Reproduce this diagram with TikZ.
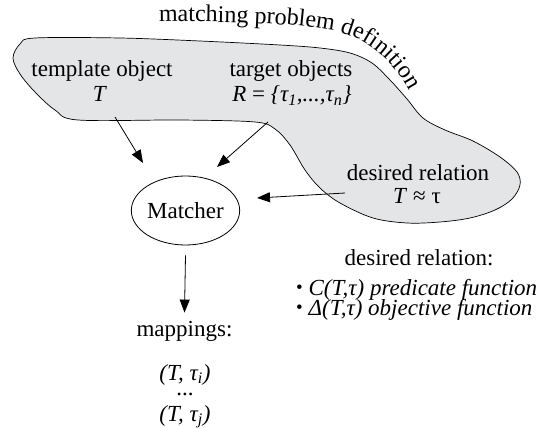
\documentclass[tikz,border=0pt]{standalone}
\usepackage{fontspec}
\setmainfont{Liberation Serif}
\usetikzlibrary{arrows.meta,decorations.text,shapes.geometric}
\definecolor{blobgray}{RGB}{228,229,231}
\newcommand{\smallbullet}{{\fontsize{19}{19}\selectfont\raisebox{1.5pt}{•}}}
\begin{document}
\begin{tikzpicture}[x=1pt,y=1pt,
  lbl/.style={inner sep=0pt, anchor=base, font=\fontsize{23}{27}\selectfont},
  arr/.style={-{Triangle[length=13pt,width=10pt]}, line width=0.8pt},
]
\useasboundingbox (0,0) rectangle (541,-428);
% blob
\path[fill=blobgray, draw=black, line width=0.7pt] plot[smooth cycle, tension=0.55] coordinates {
 (35,-38) (120,-38) (200,-41) (280,-45) (320,-48) (350,-53) (372,-63) (390,-80)
 (407,-99) (423,-118) (445,-130) (473,-141) (500,-157) (517,-172) (520,-185)
 (512,-199) (495,-210) (470,-218) (440,-222) (407,-223) (373,-218) (340,-203)
 (320,-188) (305,-170) (290,-145) (275,-129) (255,-122) (180,-120) (78,-120)
 (55,-110) (35,-92) (20,-74) (13,-58) (20,-44)};
% curved title
\path[decorate, decoration={text along path, text format delimiters={|}{|},
  text={|\fontsize{24}{28}\selectfont|matching problem definition}}]
  (159,-22) .. controls (235,-21) and (300,-24) .. (335,-31)
  .. controls (366,-38) and (392,-58) .. (410,-92);
% texts
\node[lbl] (tmpl) at (102,-77) {template object};
\node[lbl] (tmplT) at (100,-101) {\textit{T}};
\node[lbl] (tgt) at (291,-77) {target objects};
\node[lbl] (tgtR) at (292,-102) {\textit{R} = \textit{\{τ\textsubscript{1},...,τ\textsubscript{n}\}}};
\node[lbl] (des) at (418,-180) {desired relation};
\node[lbl] (desT) at (417,-203) {\textit{T} ≈ τ};
\node[draw, ellipse, minimum width=107pt, minimum height=69pt, inner sep=0pt,
  line width=0.8pt, font=\fontsize{23}{27}\selectfont] (matcher) at (185.5,-210.5) {Matcher};
\node[lbl] (mappings) at (184.5,-336) {mappings:};
\node[lbl] (map1) at (185,-380) {\textit{(T, τ\textsubscript{i})}};
\node[lbl] (dots) at (185,-395) {...};
\node[lbl] (map2) at (185,-421) {\textit{(T, τ\textsubscript{j})}};
\node[lbl] (rel) at (419,-265) {desired relation:};
\node[lbl, anchor=base west] (b1) at (296,-295) {\smallbullet\ \textit{C(T,τ) predicate function}};
\node[lbl, anchor=base west] (b2) at (296,-315) {\smallbullet\ \textit{Δ(T,τ) objective function}};
% arrows
\coordinate (ta) at (115,-117); \coordinate (tb) at (143,-163);
\coordinate (ra) at (268,-122); \coordinate (rb) at (217,-167);
\coordinate (da) at (345,-193); \coordinate (db) at (257,-198);
\draw[arr] (ta) -- (tb);
\draw[arr] (ra) -- (rb);
\draw[arr] (da) -- (db);
\draw[arr] ([yshift=-10pt]matcher.south) -- ([yshift=8pt]mappings.north);
\end{tikzpicture}
\end{document}
